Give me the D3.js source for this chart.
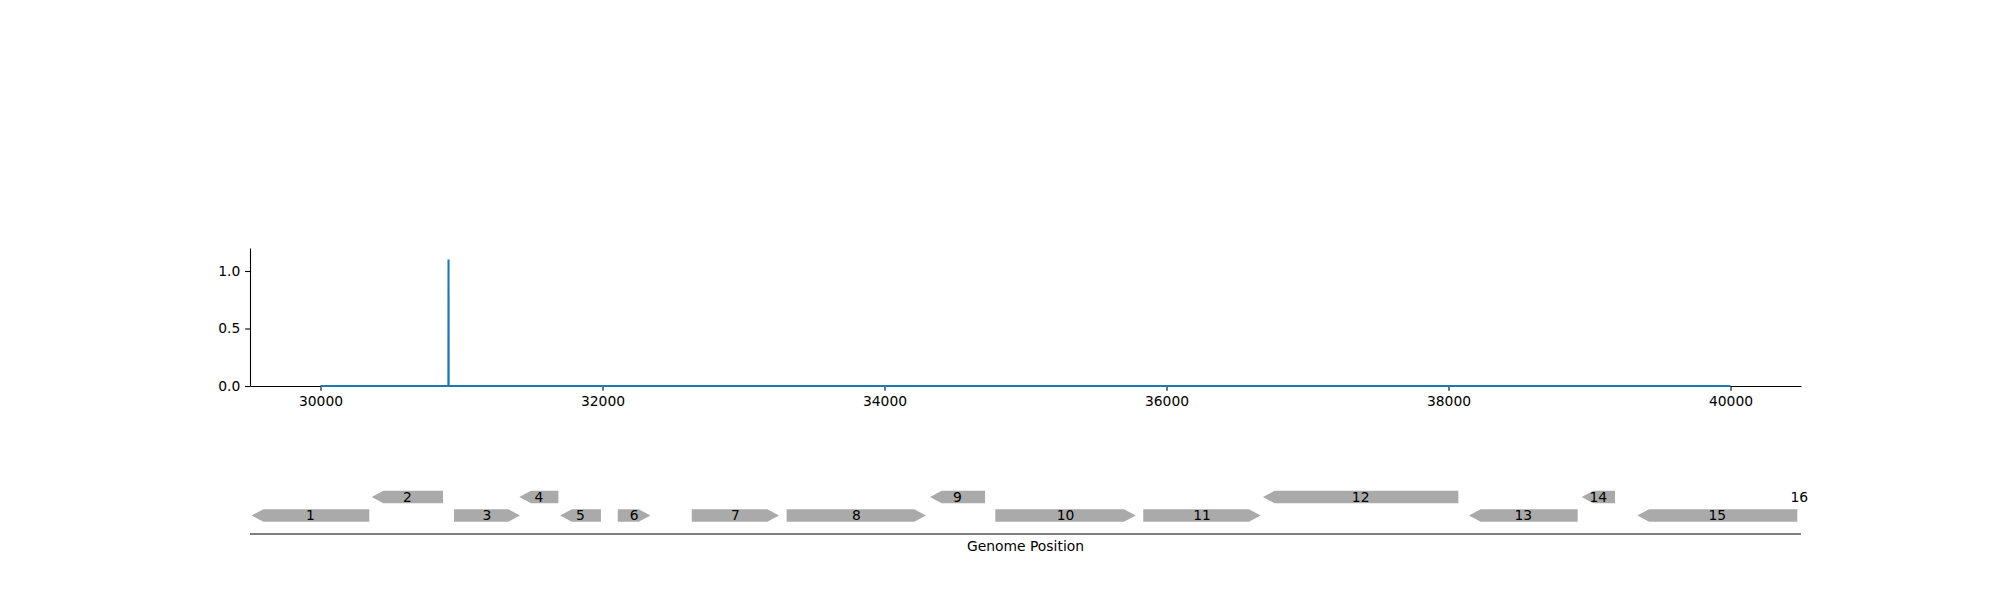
<!DOCTYPE html>
<html>
<head>
<meta charset="utf-8">
<script src="https://cdn.jsdelivr.net/npm/d3@7/dist/d3.min.js"></script>
<style>
  html, body { margin: 0; padding: 0; background: #fff; }
  svg { display: block; }
  text { font-family: "DejaVu Sans", sans-serif; }
</style>
</head>
<body>
<script>
// ---- Data ----
const coveragePositions = [30000, 30907, 30908, 30909, 40000];
const coverageValues    = [0, 0, 1.1, 0, 0];

const xTicks = [30000, 32000, 34000, 36000, 38000, 40000];
const yTicks = [0.0, 0.5, 1.0];

const geneLabels  = ["1","2","3","4","5","6","7","8","9","10","11","12","13","14","15","16"];
const geneStarts  = [29512, 30363, 30947, 31410, 31699, 32108, 32633, 33306, 34323, 34786, 35835, 36684, 38145, 38944, 39339, 40488];
const geneEnds    = [30346, 30869, 31415, 31687, 31989, 32340, 33252, 34294, 34713, 35782, 36668, 38070, 38916, 39181, 40474, 40488];
const geneStrands = [-1, -1, 1, -1, -1, 1, 1, 1, -1, 1, 1, -1, -1, -1, -1, -1];
const geneLevels  = [0, 1, 0, 1, 0, 0, 0, 0, 1, 0, 0, 1, 0, 1, 0, 1];

// ---- Layout ----
const W = 2000, H = 600;
const fontPx = 13.89;
const tickLen = 4.86, tickPad = 4.86;

const svg = d3.select("body").append("svg").attr("width", W).attr("height", H);

const x = d3.scaleLinear().domain([29500, 40500]).range([250, 1801]);
const y = d3.scaleLinear().domain([0, 1.2]).range([386, 248]);

// Top axes
const gx = svg.append("g").attr("transform", `translate(0,${y(0)})`)
  .call(d3.axisBottom(x).tickValues(xTicks).tickFormat(d3.format("d"))
        .tickSize(tickLen).tickSizeOuter(0).tickPadding(tickPad));
const gy = svg.append("g").attr("transform", `translate(${x.range()[0]},0)`)
  .call(d3.axisLeft(y).tickValues(yTicks).tickFormat(d3.format(".1f"))
        .tickSize(tickLen).tickSizeOuter(0).tickPadding(tickPad));
[gx, gy].forEach(g => {
  g.selectAll("text").attr("font-size", fontPx).attr("font-family", "DejaVu Sans").attr("fill", "#000");
  g.selectAll("line").attr("stroke", "#000").attr("stroke-width", 1.1);
  g.select(".domain").attr("stroke", "#000").attr("stroke-width", 1.1);
});

// Coverage line
const line = d3.line().x(d => x(d[0])).y(d => y(d[1]));
svg.append("path")
  .datum(coveragePositions.map((p, i) => [p, coverageValues[i]]))
  .attr("d", line)
  .attr("fill", "none")
  .attr("stroke", "#1f77b4")
  .attr("stroke-width", 2.08);

// Gene track
const rowY = d3.scaleLinear().domain([0, 1]).range([515.4, 497.1]);
const geneH = 12.5, headLen = 11.7;
const trackY = 534;

svg.append("line")
  .attr("x1", x.range()[0]).attr("x2", x.range()[1])
  .attr("y1", trackY).attr("y2", trackY)
  .attr("stroke", "#000").attr("stroke-width", 1.1);

const genes = geneLabels.map((l, i) => ({
  label: l, start: geneStarts[i], end: geneEnds[i], strand: geneStrands[i], level: geneLevels[i]
}));

function genePath(g) {
  const x0 = x(g.start), x1 = x(g.end);
  const cy = rowY(g.level), t = cy - geneH / 2, b = cy + geneH / 2;
  const h = Math.min(headLen, x1 - x0);
  let pts;
  if (g.strand < 0) {
    pts = [[x0, cy], [x0 + h, t], [x1, t], [x1, b], [x0 + h, b]];
  } else {
    pts = [[x0, t], [x1 - h, t], [x1, cy], [x1 - h, b], [x0, b]];
  }
  return "M" + pts.map(p => p.join(",")).join("L") + "Z";
}

svg.append("g").selectAll("path")
  .data(genes.filter(g => g.end > g.start))
  .join("path")
  .attr("d", genePath)
  .attr("fill", "#aaaaaa");

svg.append("g").selectAll("text")
  .data(genes)
  .join("text")
  .attr("x", g => (x(g.start) + x(g.end)) / 2)
  .attr("y", g => rowY(g.level))
  .attr("dy", "0.36em")
  .attr("text-anchor", "middle")
  .attr("font-size", fontPx)
  .attr("fill", "#000")
  .text(g => g.label);

svg.append("text")
  .attr("x", (x.range()[0] + x.range()[1]) / 2)
  .attr("y", 546)
  .attr("dy", "0.36em")
  .attr("text-anchor", "middle")
  .attr("font-size", fontPx)
  .attr("fill", "#000")
  .text("Genome Position");
</script>
</body>
</html>
